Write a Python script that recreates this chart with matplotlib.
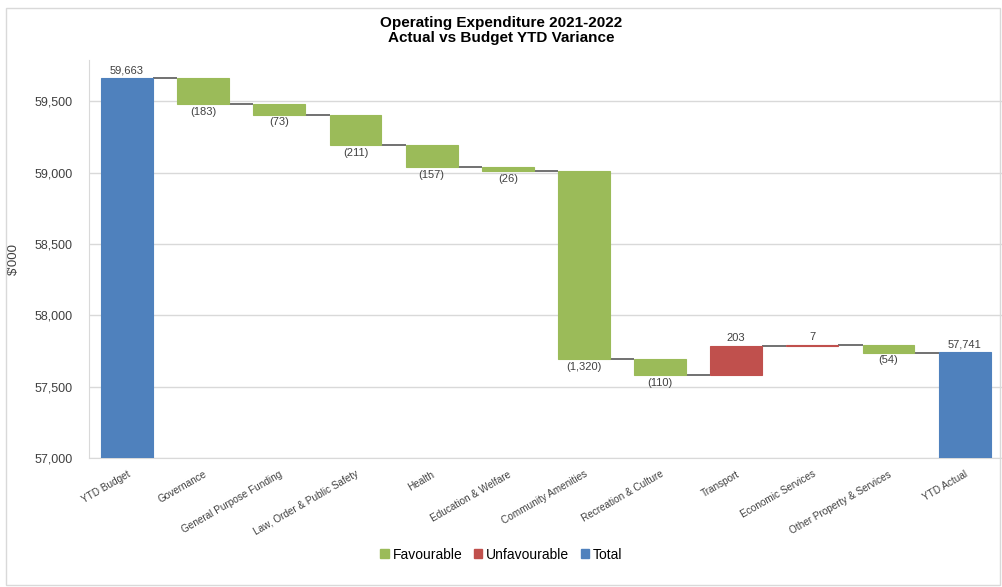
import numpy as np
import matplotlib.pyplot as plt
from matplotlib.patches import Patch, Rectangle

plt.rcParams['font.family'] = ['Liberation Sans', 'DejaVu Sans']

categories = ["YTD Budget", "Governance", "General Purpose Funding",
              "Law, Order & Public Safety", "Health", "Education & Welfare",
              "Community Amenities", "Recreation & Culture", "Transport",
              "Economic Services", "Other Property & Services", "YTD Actual"]
values = [59663, -183, -73, -211, -157, -26, -1320, -110, 203, 7, -54, 57741]
kinds = ["total", "var", "var", "var", "var", "var", "var", "var", "var",
         "var", "var", "total"]

GREEN = "#9BBB59"
RED = "#C0504D"
BLUE = "#4F81BD"

fig = plt.figure(figsize=(10.03, 5.87), dpi=100)
ax = fig.add_axes([0.0887, 0.2198, 0.911, 0.678])

x = np.arange(len(categories))
width = 0.68
bottoms, heights, colors, ends = [], [], [], []
running = 0
for v, k in zip(values, kinds):
    if k == "total":
        bottoms.append(0)
        heights.append(v)
        colors.append(BLUE)
        running = v
    else:
        new = running + v
        bottoms.append(min(running, new))
        heights.append(abs(v))
        colors.append(GREEN if v < 0 else RED)
        running = new
    ends.append(running)

ax.bar(x, heights, bottom=bottoms, width=width, color=colors,
       edgecolor=colors, lw=0.8, zorder=3)

# connector lines between bars
for i in range(len(x) - 1):
    ax.hlines(ends[i], x[i] + width / 2, x[i + 1] - width / 2,
              color="#595959", lw=1.2, zorder=2)

# data labels
for i, (v, k) in enumerate(zip(values, kinds)):
    top = bottoms[i] + heights[i]
    if k == "total" or v > 0:
        ax.annotate(f"{v:,}", (x[i], top), xytext=(0, 2),
                    textcoords="offset points", ha="center", va="bottom",
                    fontsize=8, color="#404040")
    else:
        ax.annotate(f"({abs(v):,})", (x[i], bottoms[i]), xytext=(0, -2),
                    textcoords="offset points", ha="center", va="top",
                    fontsize=8, color="#404040")

ax.set_ylim(57000, 59790)
ax.set_xlim(-0.5, len(x) - 0.5)
ax.set_yticks(np.arange(57000, 59501, 500))
ax.yaxis.set_major_formatter(plt.FuncFormatter(lambda v, p: f"{int(v):,}"))
ax.tick_params(axis="y", labelsize=9, length=0, pad=12, colors="#404040")
ax.set_xticks(x)
ax.set_xticklabels(categories, rotation=30, ha="right", rotation_mode="anchor",
                   fontsize=7.2, color="#404040")
ax.tick_params(axis="x", length=0, pad=8)
ax.grid(axis="y", color="#D9D9D9", lw=1, zorder=0)
for s in ["top", "right"]:
    ax.spines[s].set_visible(False)
ax.spines["left"].set_color("#D9D9D9")
ax.spines["bottom"].set_color("#D9D9D9")
ax.set_ylabel("$'000", fontsize=9.5, color="#404040", labelpad=10)

fig.text(0.5, 0.972, "Operating Expenditure 2021-2022\nActual vs Budget YTD Variance",
         ha="center", va="top", fontsize=11, fontweight="bold", linespacing=1.05)

handles = [Patch(color=GREEN, label="Favourable"),
           Patch(color=RED, label="Unfavourable"),
           Patch(color=BLUE, label="Total")]
fig.legend(handles=handles, loc="center", bbox_to_anchor=(0.5, 0.055), ncol=3,
           frameon=False, fontsize=10, handlelength=0.6, handleheight=0.6,
           handletextpad=0.3, columnspacing=0.8)

fig.patches.append(Rectangle((0.006, 0.003), 0.991, 0.983, transform=fig.transFigure,
                             fill=False, edgecolor="#D9D9D9", lw=1))

fig.savefig("out.png", dpi=100)
